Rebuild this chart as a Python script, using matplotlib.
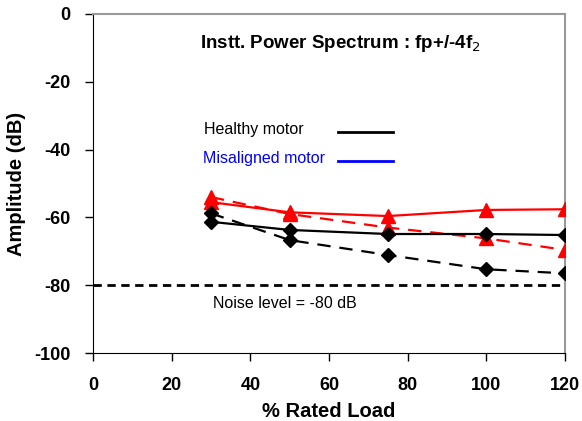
import numpy as np
import matplotlib
matplotlib.use('Agg')
import matplotlib.pyplot as plt

plt.rcParams['font.family'] = ['Liberation Sans', 'DejaVu Sans']
plt.rcParams['axes.unicode_minus'] = False

# Datos
carga = [30, 50, 75, 100, 120]
sano_solido = [-61.3, -63.7, -64.9, -64.9, -65.2]
sano_guion = [-58.8, -66.7, -71.1, -75.3, -76.5]
desal_solido = [-55.5, -58.5, -59.6, -57.8, -57.6]
desal_guion = [-54.0, -59.0, -63.0, -66.2, -69.6]
nivel_ruido = -80

fig = plt.figure(figsize=(5.82, 4.21), dpi=100)
ax = fig.add_axes([93 / 582, 1 - 353 / 421, (565 - 93) / 582, (353 - 14) / 421])

ax.plot(carga, desal_solido, color='red', lw=1.6, marker='^', ms=10, zorder=3)
ax.plot(carga, desal_guion, color='red', lw=1.6, ls=(0, (6, 4)), marker='^', ms=10, zorder=3)
ax.plot(carga, sano_solido, color='black', lw=1.6, marker='D', ms=7, zorder=4)
ax.plot(carga, sano_guion, color='black', lw=1.6, ls=(0, (6, 4)), marker='D', ms=7, zorder=4)
ax.axhline(nivel_ruido, color='black', lw=2, ls=(0, (3, 2)), zorder=2)

ax.text(30.5, -85.3, 'Noise level = -80 dB', fontsize=11.5, va='center')
ax.text(0.525, 0.912, 'Instt. Power Spectrum : fp+/-4f$_2$', transform=ax.transAxes,
        ha='center', va='center', fontsize=13.5, fontweight='bold')

# Leyenda hecha a mano
ax.text(0.236, 0.659, 'Healthy motor', transform=ax.transAxes, fontsize=11.5,
        va='center', color='black')
ax.plot([0.52, 0.635], [0.651, 0.651], transform=ax.transAxes, color='black', lw=2)
ax.text(0.232, 0.573, 'Misaligned motor', transform=ax.transAxes, fontsize=11.5,
        va='center', color='blue')
ax.plot([0.52, 0.635], [0.567, 0.567], transform=ax.transAxes, color='blue', lw=2)

ax.set_xlim(0, 120)
ax.set_ylim(-100, 0)
ax.set_xticks(np.arange(0, 121, 20))
ax.set_yticks(np.arange(-100, 1, 20))
ax.tick_params(direction='out', length=6, width=1, labelsize=13, pad=10)
ax.tick_params(axis='x', pad=11)
for lab in ax.get_xticklabels() + ax.get_yticklabels():
    lab.set_fontweight('bold')
ax.set_xlabel('% Rated Load', fontsize=14.5, fontweight='bold', labelpad=6)
ax.set_ylabel('Amplitude (dB)', fontsize=14.5, fontweight='bold', labelpad=6)

ax.spines['top'].set_color('#999999')
ax.spines['right'].set_color('#999999')
ax.spines['top'].set_linewidth(1.5)
ax.spines['right'].set_linewidth(1.5)

fig.savefig('out.png', dpi=100)
